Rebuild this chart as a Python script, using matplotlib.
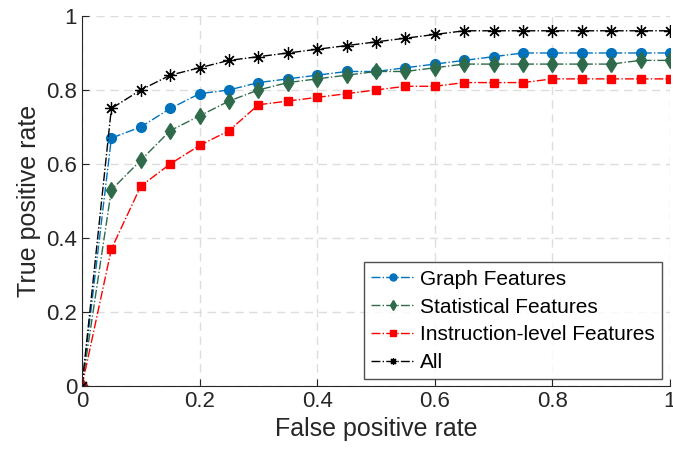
import matplotlib
matplotlib.use("Agg")
import matplotlib.pyplot as plt
import numpy as np

fpr = [0, 0.05, 0.1, 0.15, 0.2, 0.25, 0.3, 0.35, 0.4, 0.45, 0.5, 0.55, 0.6, 0.65, 0.7, 0.75, 0.8, 0.85, 0.9, 0.95, 1.0]
graph = [0, 0.67, 0.70, 0.75, 0.79, 0.80, 0.82, 0.83, 0.84, 0.85, 0.85, 0.86, 0.87, 0.88, 0.89, 0.90, 0.90, 0.90, 0.90, 0.90, 0.90]
stat = [0, 0.53, 0.61, 0.69, 0.73, 0.77, 0.80, 0.82, 0.83, 0.84, 0.85, 0.85, 0.86, 0.87, 0.87, 0.87, 0.87, 0.87, 0.87, 0.88, 0.88]
instr = [0, 0.37, 0.54, 0.60, 0.65, 0.69, 0.76, 0.77, 0.78, 0.79, 0.80, 0.81, 0.81, 0.82, 0.82, 0.82, 0.83, 0.83, 0.83, 0.83, 0.83]
allf = [0, 0.75, 0.80, 0.84, 0.86, 0.88, 0.89, 0.90, 0.91, 0.92, 0.93, 0.94, 0.95, 0.96, 0.96, 0.96, 0.96, 0.96, 0.96, 0.96, 0.96]
labels = ["Graph Features", "Statistical Features", "Instruction-level Features", "All"]
tick_vals = [0, 0.2, 0.4, 0.6, 0.8, 1]
tick_labels = ["0", "0.2", "0.4", "0.6", "0.8", "1"]

plt.rcParams['font.family'] = ['Liberation Sans', 'DejaVu Sans']
fig = plt.figure(figsize=(6.73, 4.54), dpi=100)
ax = fig.add_axes([0.1218, 0.1498, 0.8737, 0.815])

ax.plot(fpr, graph, '-.', color='#0072BD', marker='o', markersize=7, lw=1, label=labels[0])
ax.plot(fpr, stat, '-.', color='#2F6B4B', marker='d', markersize=8, lw=1, label=labels[1])
ax.plot(fpr, instr, '-.', color='#FF0000', marker='s', markersize=6, lw=1, label=labels[2])
ax.plot(fpr, allf, '-.', color='black', marker=(8, 2, 0), markersize=9, mew=0.9, lw=1, label=labels[3])

ax.set_xlim(0, 1)
ax.set_ylim(0, 1)
ax.set_xticks(tick_vals)
ax.set_yticks(tick_vals)
ax.set_xticklabels(tick_labels)
ax.set_yticklabels(tick_labels)
ax.tick_params(direction='in', labelsize=16, colors='#262626', length=5)
ax.grid(True, linestyle=(0, (6, 4)), color='#DDDDDD', lw=1)
ax.set_axisbelow(True)
for s in ['top', 'right']:
    ax.spines[s].set_visible(False)
for s in ['left', 'bottom']:
    ax.spines[s].set_color('#262626')
ax.set_xlabel("False positive rate", fontsize=18, color='#262626', labelpad=4)
ax.set_ylabel("True positive rate", fontsize=18, color='#262626')
leg = ax.legend(loc='lower right', bbox_to_anchor=(0.987, 0.018), fontsize=15, frameon=True, fancybox=False,
                edgecolor='#262626', handlelength=2.1, borderpad=0.35, labelspacing=0.42, handletextpad=0.25,
                borderaxespad=0)
leg.get_frame().set_linewidth(1)
for h in leg.legend_handles:
    h.set_markersize(5)
fig.savefig("out.png", dpi=100)
